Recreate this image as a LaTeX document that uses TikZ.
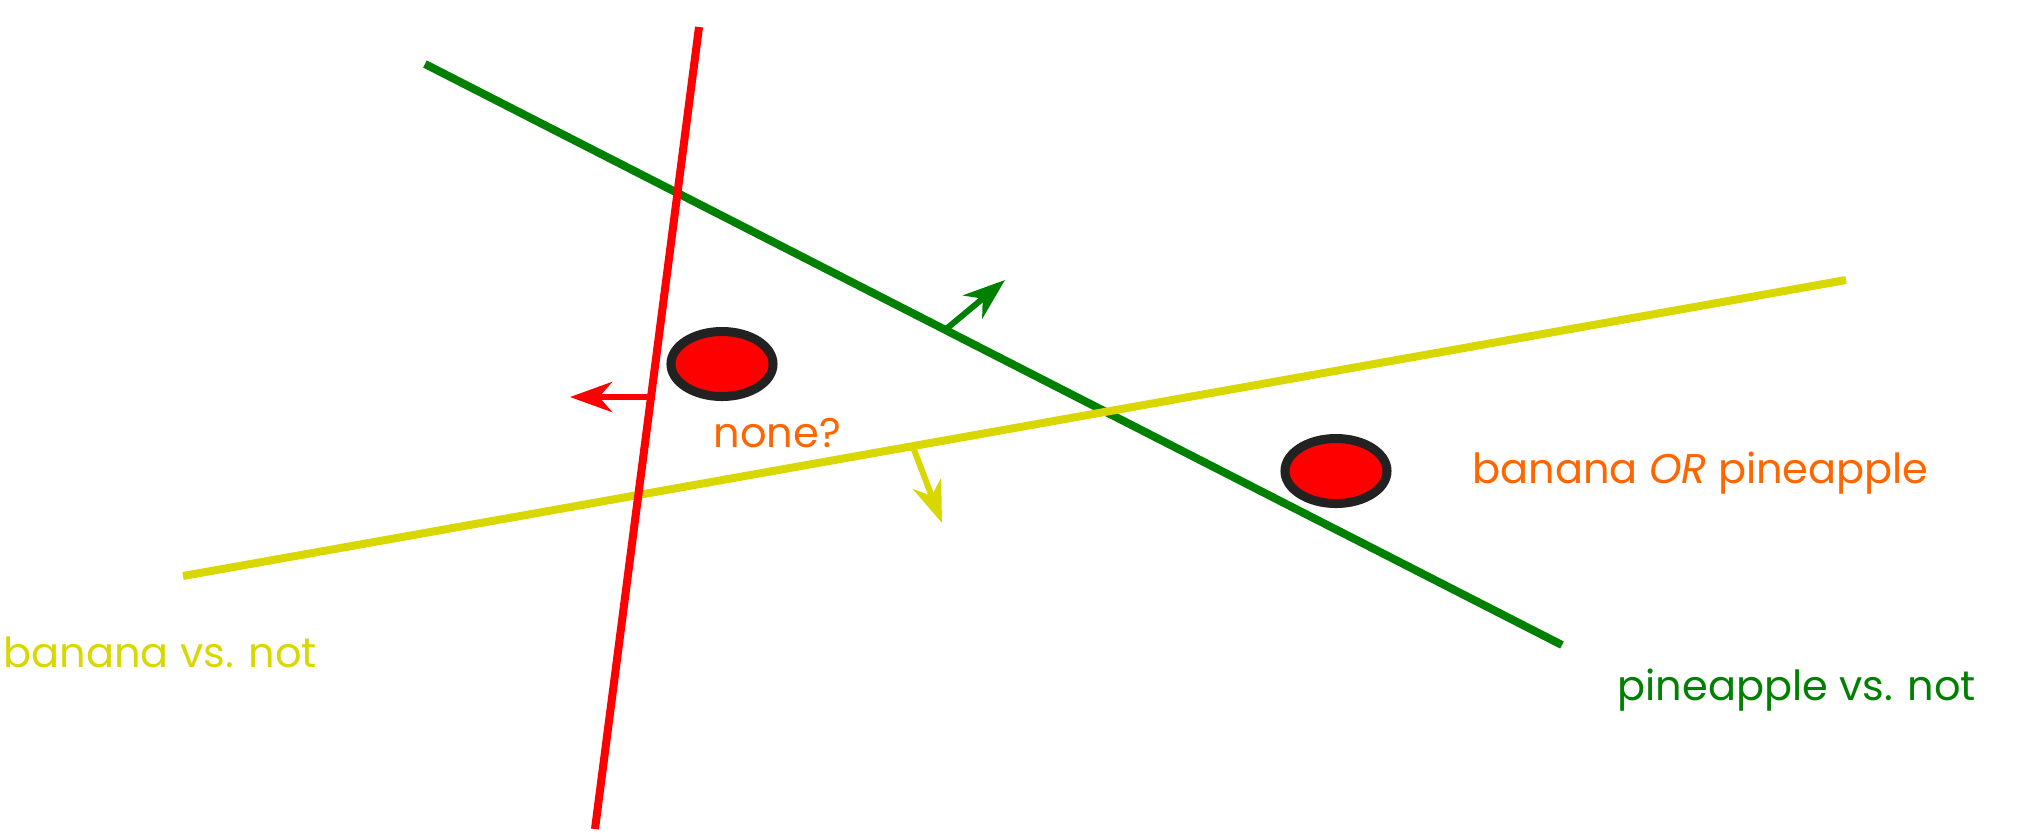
\documentclass[tikz,border=0pt]{standalone}
\usepackage{fontspec}
\setmainfont{Poppins}
\usetikzlibrary{arrows.meta,shapes.geometric}
\definecolor{sepred}{RGB}{255,0,0}
\definecolor{sepgreen}{RGB}{0,128,0}
\definecolor{sepyellow}{RGB}{216,216,0}
\definecolor{tagorange}{RGB}{255,102,0}
\definecolor{rimgray}{RGB}{34,34,34}
\tikzset{
    boundary/.style={line width=0.08cm},
    normal/.style={-{Stealth[length=0.42cm, width=0.30cm, inset=0.13cm]},
                   line width=0.06cm},
    sample/.style={ellipse, draw=rimgray, fill=sepred, line width=0.09cm,
                   minimum width=1.02cm, minimum height=0.65cm, inner sep=0pt},
    tag/.style={font=\fontsize{11.8}{14}\selectfont, inner sep=0pt, anchor=base west},
}

\begin{document}
\begin{tikzpicture}[x=0.01cm, y=-0.01cm]
    \path[use as bounding box] (0,0) rectangle (2032,832);

    % separating lines
    \coordinate (green top) at (425,64);
    \coordinate (green end) at (1562,645);
    \coordinate (yellow left) at (183,576);
    \coordinate (yellow right) at (1846,280);
    \coordinate (red top) at (699,27);
    \coordinate (red end) at (595,829);
    \draw[boundary, sepgreen] (green top) -- (green end);
    \draw[boundary, sepyellow] (yellow left) -- (yellow right);
    \draw[boundary, sepred] (red top) -- (red end);

    % normals
    \coordinate (red foot) at (655,397);
    \coordinate (red tip) at (570,397);
    \coordinate (green foot) at (945,330);
    \coordinate (green tip) at (1005,280);
    \coordinate (yellow foot) at (913,447);
    \coordinate (yellow tip) at (942,523);
    \draw[normal, sepred] (red foot) -- (red tip);
    \draw[normal, sepgreen] (green foot) -- (green tip);
    \draw[normal, sepyellow] (yellow foot) -- (yellow tip);

    % points
    \node[sample] (first) at (722,364) {};
    \node[sample] (second) at (1336,471) {};

    \node[tag, text=tagorange] (nonelabel) at (713,447) {none?};
    \node[tag, text=tagorange] (orlabel) at (1472,483) {banana \textit{OR} pineapple};
    \node[tag, text=sepyellow] (bananalabel) at (3,667) {banana vs. not};
    \node[tag, text=sepgreen] (pinelabel) at (1617,700) {pineapple vs. not};

\end{tikzpicture}
\end{document}
